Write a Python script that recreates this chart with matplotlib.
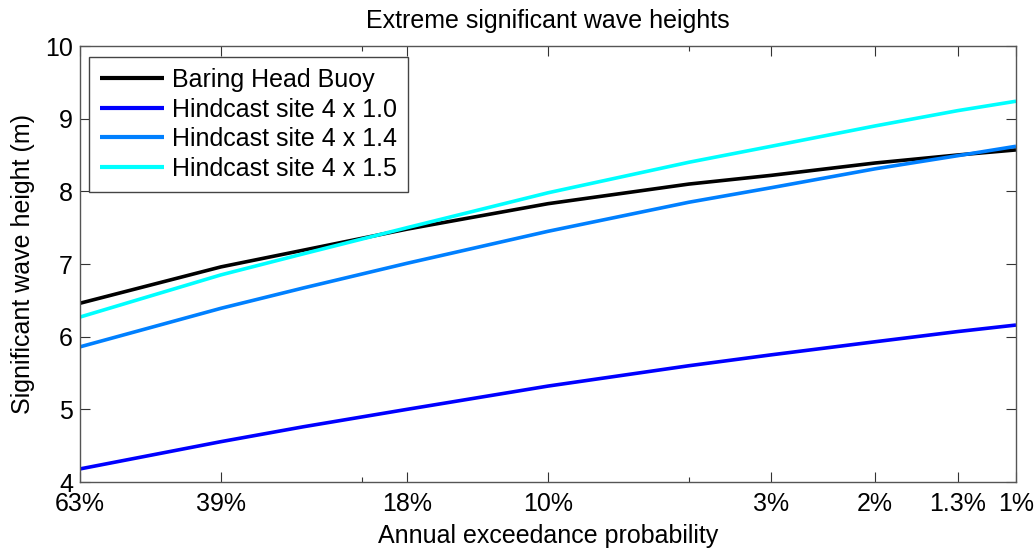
import matplotlib
matplotlib.use("Agg")
import matplotlib.pyplot as plt

plt.rcParams['font.family'] = ['Liberation Sans', 'DejaVu Sans']

# Return periods (years) used as x positions (log scale); labels are AEP
return_period = [1, 2, 3, 5, 10, 20, 30, 50, 75, 100]

baring_head = [6.46, 6.96, 7.19, 7.48, 7.83, 8.10, 8.22, 8.39, 8.50, 8.57]
hindcast_10 = [4.18, 4.555, 4.76, 5.00, 5.32, 5.60, 5.75, 5.93, 6.07, 6.16]
hindcast_14 = [5.86, 6.39, 6.67, 7.01, 7.45, 7.85, 8.05, 8.31, 8.49, 8.62]
hindcast_15 = [6.27, 6.85, 7.14, 7.50, 7.98, 8.40, 8.62, 8.90, 9.11, 9.24]

series_labels = ['Baring Head Buoy', 'Hindcast site 4 x 1.0',
                 'Hindcast site 4 x 1.4', 'Hindcast site 4 x 1.5']
series_colors = ['#000000', '#0000ff', '#0080ff', '#00ffff']

xtick_pos = [1, 2, 5, 10, 30, 50, 75, 100]
xtick_labels = ['63%', '39%', '18%', '10%', '3%', '2%', '1.3%', '1%']
xminor_pos = [4, 20]
ytick_pos = [4, 5, 6, 7, 8, 9, 10]

W, H = 1036, 549
fig = plt.figure(figsize=(W / 100, H / 100), dpi=100)
ax = fig.add_axes([80 / W, (H - 482) / H, 936 / W, 436 / H])

for vals, lab, col in zip([baring_head, hindcast_10, hindcast_14, hindcast_15],
                          series_labels, series_colors):
    ax.plot(return_period, vals, color=col, lw=2.6, label=lab,
            solid_capstyle='butt')

ax.set_xscale('log')
ax.set_xlim(1, 100)
ax.set_ylim(4, 10)
ax.set_xticks(xtick_pos)
ax.set_xticklabels(xtick_labels)
ax.set_xticks(xminor_pos, minor=True)
ax.set_xticklabels(['' for _ in xminor_pos], minor=True)
ax.set_yticks(ytick_pos)
ax.set_yticklabels([str(v) for v in ytick_pos])

spine_col = '#555555'
for s in ax.spines.values():
    s.set_color(spine_col)
    s.set_linewidth(1.0)

ax.tick_params(axis='both', which='major', direction='in', length=7.5,
               width=0.8, color='#333333', top=True, right=True,
               labelsize=18)
ax.tick_params(axis='x', which='major', pad=7)
ax.tick_params(axis='y', which='major', pad=5)
ax.tick_params(axis='x', which='minor', direction='in', length=3.8,
               width=0.8, color='#333333', top=True, bottom=True)

ax.set_title('Extreme significant wave heights', fontsize=18, pad=13)
ax.set_xlabel('Annual exceedance probability', fontsize=18, labelpad=6)
ax.set_ylabel('Significant wave height (m)', fontsize=18, labelpad=7)

leg = ax.legend(loc='upper left', bbox_to_anchor=(0.0096, 0.975),
                borderaxespad=0, fontsize=18, fancybox=False,
                framealpha=1, edgecolor='#444444', handlelength=2.55,
                handletextpad=0.32, labelspacing=0.22, borderpad=0.45)
leg.get_frame().set_linewidth(1.0)
for line in leg.get_lines():
    line.set_linewidth(3)

fig.savefig('out.png', dpi=100)
